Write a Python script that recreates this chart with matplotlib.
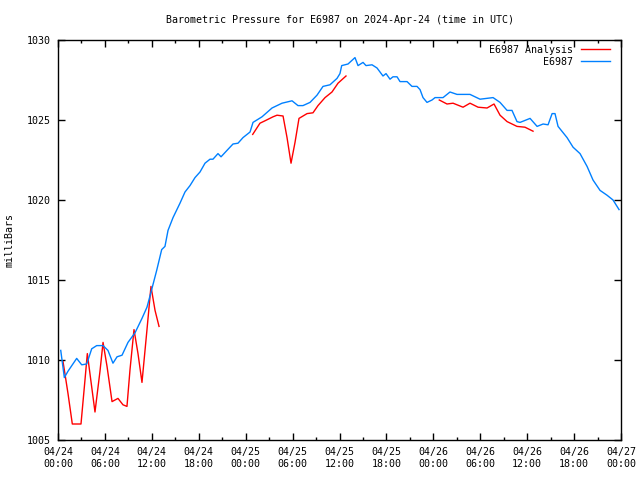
import numpy as np
import matplotlib
matplotlib.use("Agg")
import matplotlib.pyplot as plt
from matplotlib.ticker import MultipleLocator

# Hours since 2024-04-24 00:00 UTC
obs_hours = [0.35, 0.81, 1.28, 2.39, 3.03, 3.67, 4.31, 4.95, 5.76, 6.39, 7.03, 7.55, 8.19,
             8.95, 9.85, 10.74, 11.38, 11.98, 12.62, 13.26, 13.68, 14.07, 14.71, 15.60,
             16.24, 16.88, 17.52, 18.16, 18.80, 19.44, 19.82, 20.46, 20.85, 21.61, 22.38,
             23.02, 23.66, 24.56, 24.94, 26.09, 27.37, 28.65, 29.93, 30.69, 31.33, 32.23,
             33.12, 33.89, 34.78, 35.68, 36.06, 36.28, 37.09, 37.98, 38.37, 39.01, 39.39,
             40.16, 40.80, 41.56, 41.95, 42.46, 42.84, 43.36, 43.74, 44.64, 45.27, 45.91,
             46.30, 46.68, 47.19, 47.83, 48.22, 48.86, 49.24, 50.13, 51.03, 52.69, 53.97,
             55.64, 56.53, 57.43, 58.06, 58.70, 59.09, 60.37, 61.27, 62.04, 62.67, 63.19,
             63.56, 63.95, 65.10, 65.87, 66.76, 67.66, 68.42, 69.32, 70.21, 70.98, 71.75]
obs_mb = [1010.6, 1008.9, 1009.3, 1010.1, 1009.7, 1009.75, 1010.7, 1010.9, 1010.9, 1010.6,
          1009.8, 1010.2, 1010.3, 1011.1, 1011.7, 1012.6, 1013.3, 1014.4, 1015.6, 1016.9,
          1017.1, 1018.1, 1018.9, 1019.8, 1020.5, 1020.9, 1021.4, 1021.75, 1022.3, 1022.55,
          1022.55, 1022.9, 1022.7, 1023.1, 1023.5, 1023.55, 1023.9, 1024.25, 1024.85,
          1025.2, 1025.75, 1026.05, 1026.2, 1025.9, 1025.9, 1026.1, 1026.55, 1027.1,
          1027.2, 1027.6, 1027.9, 1028.4, 1028.5, 1028.9, 1028.4, 1028.6, 1028.4, 1028.45,
          1028.25, 1027.75, 1027.9, 1027.55, 1027.7, 1027.7, 1027.4, 1027.4, 1027.1,
          1027.1, 1026.9, 1026.4, 1026.1, 1026.25, 1026.4, 1026.4, 1026.4, 1026.75,
          1026.6, 1026.6, 1026.3, 1026.4, 1026.1, 1025.6, 1025.6, 1024.9, 1024.85, 1025.1,
          1024.6, 1024.75, 1024.7, 1025.4, 1025.4, 1024.6, 1023.9, 1023.3, 1022.9, 1022.1,
          1021.25, 1020.6, 1020.3, 1020.0, 1019.4]

# Analysis series (NaN separates gaps)
ana_hours = [0.64, 0.90, 1.28, 1.83, 2.94, 3.45, 3.75, 4.73, 5.37, 5.76, 6.27, 6.91, 7.67,
             8.31, 8.82, 9.21, 9.72, 10.23, 10.74, 11.38, 11.89, 12.41, 12.92,
             18.0,
             24.90, 25.83, 26.47, 27.50, 28.01, 28.78, 29.29, 29.80, 30.31, 30.82, 31.85,
             32.61, 33.25, 34.15, 35.04, 35.81, 36.83,
             42.0,
             48.76, 49.75, 50.52, 51.80, 52.69, 53.72, 54.87, 55.76, 56.53, 57.43, 58.70,
             59.72, 60.75]
ana_mb = [1009.9, 1009.1, 1007.9, 1006.0, 1006.0, 1008.75, 1010.4, 1006.75, 1009.3, 1011.1,
          1009.6, 1007.4, 1007.6, 1007.2, 1007.1, 1009.4, 1011.9, 1010.4, 1008.6, 1011.9,
          1014.6, 1013.1, 1012.1,
          np.nan,
          1024.1, 1024.8, 1024.95, 1025.2, 1025.3, 1025.25, 1023.9, 1022.3, 1023.6, 1025.1,
          1025.4, 1025.45, 1025.9, 1026.4, 1026.75, 1027.3, 1027.75,
          np.nan,
          1026.25, 1026.0, 1026.05, 1025.8, 1026.05, 1025.8, 1025.75, 1026.0, 1025.3,
          1024.9, 1024.6, 1024.55, 1024.3]

tick_hours = list(range(0, 73, 6))
tick_labels = ["04/24\n00:00", "04/24\n06:00", "04/24\n12:00", "04/24\n18:00",
               "04/25\n00:00", "04/25\n06:00", "04/25\n12:00", "04/25\n18:00",
               "04/26\n00:00", "04/26\n06:00", "04/26\n12:00", "04/26\n18:00",
               "04/27\n00:00"]
y_ticks = [1005, 1010, 1015, 1020, 1025, 1030]

FONT = "DejaVu Sans Mono"
FS = 7.2

fig = plt.figure(figsize=(6.4, 4.8), dpi=100)
ax = fig.add_axes([58 / 640, 40 / 480, (621 - 58) / 640, 400 / 480])

ax.plot(ana_hours, ana_mb, color="#ff0000", lw=1.0, label="E6987 Analysis")
ax.plot(obs_hours, obs_mb, color="#0080ff", lw=1.0, label="E6987")

ax.set_xlim(0, 72)
ax.set_ylim(1005, 1030)
ax.set_xticks(tick_hours)
ax.set_xticklabels(tick_labels, fontfamily=FONT, fontsize=FS)
ax.xaxis.set_minor_locator(MultipleLocator(3))
ax.set_yticks(y_ticks)
ax.set_yticklabels([str(v) for v in y_ticks], fontfamily=FONT, fontsize=FS)
ax.tick_params(which="both", direction="in", top=True, right=True, width=1.0)
ax.tick_params(which="major", length=5, pad=5)
ax.tick_params(which="minor", length=2.5)
for s in ax.spines.values():
    s.set_linewidth(1.0)

ax.set_ylabel("milliBars", fontfamily=FONT, fontsize=FS, labelpad=9)
ax.set_title("Barometric Pressure for E6987 on 2024-Apr-24 (time in UTC)",
             fontfamily=FONT, fontsize=FS, pad=12)

leg = ax.legend(loc="upper right", bbox_to_anchor=(0.9876, 0.9975), frameon=False,
                markerfirst=False, prop={"family": FONT, "size": FS}, handlelength=2.9,
                handletextpad=0.8, borderaxespad=0.0, labelspacing=0.2)
for t in leg.get_texts():
    t.set_ha("right")

fig.savefig("out.png", dpi=100)
